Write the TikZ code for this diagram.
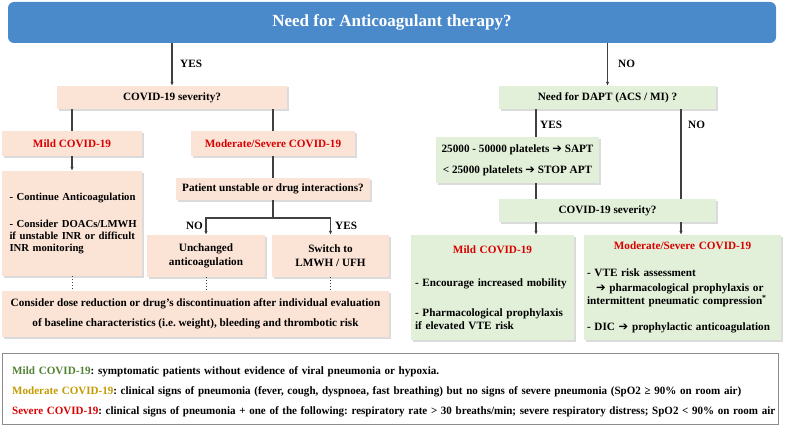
\documentclass[tikz,border=0pt]{standalone}
\usepackage{fontspec}
\usepackage{graphicx}
\setmainfont{Liberation Serif}
\newfontfamily\symf{DejaVu Sans}
\usetikzlibrary{shadows,arrows.meta}
\definecolor{barblue}{HTML}{4A8ACB}
\definecolor{peach}{HTML}{FBE3D6}
\definecolor{lgreen}{HTML}{E2F0D9}
\definecolor{linec}{HTML}{404040}
\definecolor{tred}{HTML}{D90000}
\definecolor{mildg}{HTML}{548235}
\definecolor{modo}{HTML}{C49A00}
\newcommand{\myarr}{{\symf\bfseries\fontsize{11.5}{12}\selectfont ➔}}
\newcommand{\legline}[2]{\resizebox{#1}{\height}{#2}}
\frenchspacing
\begin{document}
\begin{tikzpicture}[x=1pt,y=-1pt,
  txt/.style={font=\fontsize{11.2}{12.5}\selectfont\bfseries\frenchspacing},
  box/.style={txt, draw=none, inner sep=0pt, align=center, text=black,
    drop shadow={shadow xshift=1.5pt,shadow yshift=-1.5pt,fill=black!28}},
  pbox/.style={box, fill=peach},
  gbox/.style={box, fill=lgreen},
  conn/.style={draw=linec, line width=1.2pt},
  arr/.style={conn, -{Latex[length=4pt,width=3.5pt]}},
  dots/.style={draw=linec, line width=1pt, dotted},
  lbl/.style={txt, anchor=west, inner sep=0pt},
]
\useasboundingbox (0,0) rectangle (785,428);

% title bar
\node[fill=barblue, rounded corners=6pt, minimum width=768pt, minimum height=41pt,
      text=white, font=\fontsize{17}{20}\selectfont\bfseries] (bar) at (392,22.5)
      {Need for Anticoagulant therapy?};

% left branch
\node[pbox, minimum width=230pt, minimum height=23pt] (sevL) at (172,97.5) {COVID-19 severity?};
\node[pbox, minimum width=140pt, minimum height=25pt, text=tred] (mildL) at (72,143.5) {Mild COVID-19};
\node[pbox, minimum width=164pt, minimum height=25pt, text=tred] (modL) at (273,143.5) {Moderate/Severe COVID-19};
\node[pbox, minimum width=140pt, minimum height=105pt, text width=125pt, align=left,
      font=\fontsize{10.7}{12}\selectfont\bfseries] (txtL) at (72,223.5)
  {\makebox[125pt][l]{- Continue Anticoagulation}\\[15pt]\makebox[125pt][s]{- Consider DOACs/LMWH}\\\makebox[125pt][s]{if unstable INR or difficult}\\INR monitoring};
\node[pbox, minimum width=194pt, minimum height=22pt] (pat) at (273,189) {Patient unstable or drug interactions?};
\node[pbox, minimum width=118pt, minimum height=42pt] (unch) at (206,256) {Unchanged\\[1.5pt]anticoagulation};
\node[pbox, minimum width=117pt, minimum height=42pt] (swit) at (330.5,256) {Switch to\\[1.5pt]LMWH / UFH};
\node[pbox, minimum width=387pt, minimum height=46pt] (botL) at (195.5,314)
  {Consider dose reduction or drug’s discontinuation after individual evaluation\\[7.5pt]of baseline characteristics (i.e. weight), bleeding and thrombotic risk};

% right branch
\node[gbox, minimum width=217pt, minimum height=23pt] (dapt) at (607.5,97.5) {Need for DAPT (ACS / MI) ?};
\node[gbox, minimum width=163pt, minimum height=46pt] (plat) at (517.5,160)
  {25000 - 50000 platelets \myarr{} SAPT\\[8.5pt]< 25000 platelets \myarr{} STOP APT};
\node[gbox, minimum width=217pt, minimum height=23pt] (sevR) at (607.5,210.5) {COVID-19 severity?};
\node[gbox, minimum width=163pt, minimum height=105pt, text width=155pt, align=left] (mildR) at (492.5,287.5)
  {\makebox[155pt]{\color{tred}Mild COVID-19}\\[20pt]- Encourage increased mobility\\[18pt]- Pharmacological prophylaxis\\if elevated VTE risk};
\node[gbox, minimum width=197pt, minimum height=105pt, text width=191pt, align=left] (modR) at (682.5,287.5)
  {\makebox[191pt]{\color{tred}Moderate/Severe COVID-19}\\[14.5pt]- VTE risk assessment\\[2.5pt]\hspace*{9pt}\myarr{} pharmacological prophylaxis or\\intermittent pneumatic compression\textsuperscript{*}\\[13.5pt]- DIC \myarr{} prophylactic anticoagulation};

% legend
\node[draw=black!45, line width=0.8pt, fill=white, minimum width=776pt, minimum height=71pt, inner sep=0pt] (leg) at (390,388.5) {};
\node[txt, anchor=west, text width=766pt, align=left, inner sep=0pt] (legtxt) at (12,391.5)
  {\legline{427pt}{{\color{mildg}Mild COVID-19}: symptomatic patients without evidence of viral pneumonia or hypoxia.}\\[8pt]
   \legline{729pt}{{\color{modo}Moderate COVID-19}: clinical signs of pneumonia (fever, cough, dyspnoea, fast breathing) but no signs of severe pneumonia (SpO2 ≥ 90\% on room air)}\\[7pt]
   \legline{763pt}{{\color{tred}Severe COVID-19}: clinical signs of pneumonia + one of the following: respiratory rate > 30 breaths/min; severe respiratory distress; SpO2 < 90\% on room air}};

% connectors left
\draw[arr] (sevL.north |- bar.south) -- (sevL.north);
\node[lbl] (yes1) at (180,64) {YES};
\draw[conn] (mildL.north |- sevL.south) -- (mildL.north);
\draw[conn] (modL.north |- sevL.south) -- (modL.north);
\draw[arr] (mildL.south) -- (txtL.north);
\draw[conn] (modL.south) -- (pat.north);
\coordinate (pj) at (273,218);
\draw[conn] (pat.south) -- (pj);
\draw[arr] (pj) -| (unch.north);
\draw[arr] (pj) -| (swit.north);
\node[lbl, anchor=east] (no2) at (203,226) {NO};
\node[lbl] (yes2) at (335,226) {YES};
\draw[dots] (txtL.south) -- (botL.north -| txtL.south);
\draw[dots] (unch.south) -- (botL.north -| unch.south);
\draw[dots] (swit.south) -- (botL.north -| swit.south);

% connectors right
\draw[arr] (dapt.north |- bar.south) -- (dapt.north);
\node[lbl] (no1) at (618,64) {NO};
\coordinate (yx) at (536,0);
\coordinate (nx) at (681,0);
\draw[conn] (dapt.south -| yx) -- (plat.north -| yx);
\node[lbl] (yes3) at (540,125) {YES};
\draw[conn] (plat.south -| yx) -- (sevR.north -| yx);
\draw[conn] (dapt.south -| nx) -- (sevR.north -| nx);
\node[lbl] (no3) at (688,125) {NO};
\draw[arr] (sevR.south -| yx) -- (mildR.north -| yx);
\draw[arr] (sevR.south -| nx) -- (modR.north -| nx);
\end{tikzpicture}
\end{document}
